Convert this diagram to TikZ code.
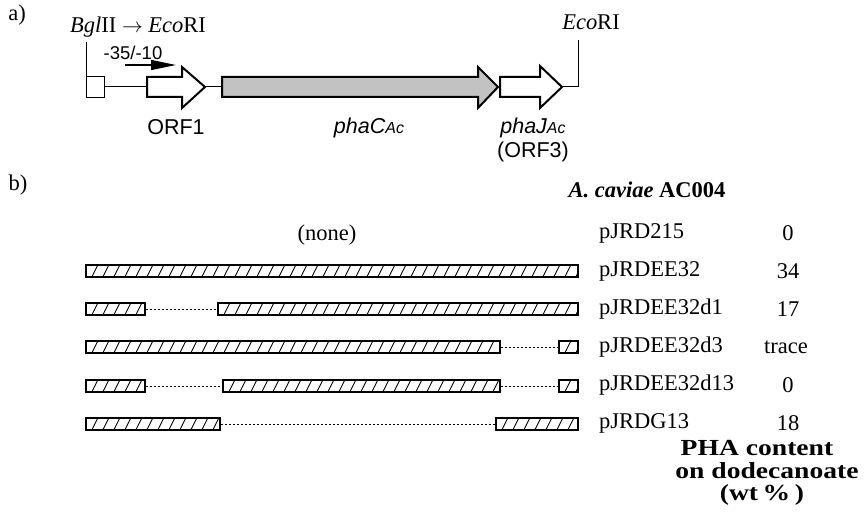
\documentclass[tikz,border=0pt]{standalone}
\usepackage{fontspec}
\usepackage{graphicx}
\setmainfont{Liberation Serif}
\setsansfont{Liberation Sans}
\usetikzlibrary{arrows.meta}
\tikzset{
  lbl/.style={font=\fontsize{22.5}{26}\selectfont, inner sep=0},
  plbl/.style={lbl, anchor=west},
  val/.style={lbl},
  slbl/.style={font=\sffamily\fontsize{21.5}{24}\selectfont, inner sep=0},
  bigb/.style={font=\bfseries\fontsize{23}{24}\selectfont, inner sep=0},
  gene/.style={draw, line width=2pt, line join=miter},
  thinln/.style={line width=1pt},
  hbar/.style={draw, line width=1.7pt, minimum height=12pt, inner sep=0, anchor=west,
    path picture={\foreach \k in {0,...,46}{\draw[line width=0.9pt]
      ([xshift=\k*11pt-5pt]path picture bounding box.south west) -- ++(7pt,14pt);}}},
  dline/.style={line width=1pt, dash pattern=on 2.5pt off 1.5pt},
}
\newcommand\acsub{\fontsize{16}{16}\selectfont Ac}
\begin{document}
\begin{tikzpicture}[x=1pt,y=-1pt]
\useasboundingbox (0,0) rectangle (864,516);

% ---------- part a ----------
\node[lbl] (la) at (17,15) {a)};
\node[lbl] (bgl) at (138,27) {\textit{Bgl}II $\rightarrow$ \textit{Eco}RI};
\node[lbl] (eco) at (591,22) {\textit{Eco}RI};

\coordinate (bglTop) at (86,42);
\node[draw, line width=1pt, minimum width=18pt, minimum height=21pt, inner sep=0, anchor=north west] (sbox) at (86,76) {};
\draw[thinln] (bglTop) -- (sbox.north west);

% ORF1
\draw[gene, fill=white] (147,77) -- (182,77) -- (182,67) -- (205,87) -- (182,108) -- (182,97) -- (147,97) -- cycle;
\coordinate (orf1L) at (147,87);
\coordinate (orf1R) at (205,87);
% phaC
\draw[gene, fill=black!24] (222,77) -- (478,77) -- (478,67) -- (498,87) -- (478,108) -- (478,97) -- (222,97) -- cycle;
\coordinate (phacL) at (222,87);
% phaJ
\draw[gene, fill=white] (500,77) -- (540,77) -- (540,66) -- (562,87) -- (540,108) -- (540,97) -- (500,97) -- cycle;
\coordinate (phajR) at (562,87);
\coordinate (ecoC) at (578,87);
\coordinate (ecoTop) at (578,40);

\draw[thinln] (sbox.east) -- (orf1L);
\draw[thinln] (orf1R) -- (phacL);
\draw[thinln] (phajR) -- (ecoC) -- (ecoTop);

% promoter
\node[font=\sffamily\fontsize{18.5}{20}\selectfont, inner sep=0] (prom) at (133,53) {-35/-10};
\coordinate (prL) at (125,65);
\coordinate (prR) at (176,65);
\draw[line width=1.2pt, -{Triangle[length=25pt,width=10pt]}] (prL) -- (prR);

\node[slbl] (orf1) at (176,127) {ORF1};
\node[slbl] (phac) at (369,128) {\itshape phaC\acsub};
\node[slbl] (phaj) at (533,128) {\itshape phaJ\acsub};
\node[slbl] (orf3) at (533,152) {(ORF3)};

% ---------- part b ----------
\node[lbl] (lb) at (18,185) {b)};
\node[lbl, font=\bfseries\fontsize{22.5}{26}\selectfont] (acav) at (647,190) {\textit{A. caviae} AC004};
\node[lbl] (none) at (327,235) {(none)};

\node[plbl] (p1) at (599,233) {pJRD215};
\node[plbl] (p2) at (599,271) {pJRDEE32};
\node[plbl] (p3) at (599,309) {pJRDEE32d1};
\node[plbl] (p4) at (599,347) {pJRDEE32d3};
\node[plbl] (p5) at (599,385) {pJRDEE32d13};
\node[plbl] (p6) at (599,423) {pJRDG13};

\node[val] (v1) at (788,233) {0};
\node[val] (v2) at (788,271) {34};
\node[val] (v3) at (788,309) {17};
\node[val] (v4) at (786,347) {trace};
\node[val] (v5) at (788,385) {0};
\node[val] (v6) at (788,423) {18};

% bars
\node[hbar, minimum width=492pt] (b2) at (85,271) {};

\node[hbar, minimum width=59pt] (b3a) at (85,309) {};
\node[hbar, minimum width=360pt] (b3b) at (217,309) {};
\draw[dline] (b3a.east) -- (b3b.west);

\node[hbar, minimum width=414pt] (b4a) at (85,347) {};
\node[hbar, minimum width=19pt] (b4b) at (558,347) {};
\draw[dline] (b4a.east) -- (b4b.west);

\node[hbar, minimum width=59pt] (b5a) at (85,386) {};
\node[hbar, minimum width=277pt] (b5b) at (222,386) {};
\node[hbar, minimum width=19pt] (b5c) at (558,386) {};
\draw[dline] (b5a.east) -- (b5b.west);
\draw[dline] (b5b.east) -- (b5c.west);

\node[hbar, minimum width=134pt] (b6a) at (85,424) {};
\node[hbar, minimum width=82pt] (b6b) at (495,424) {};
\draw[dline] (b6a.east) -- (b6b.west);

% PHA content legend
\node[bigb] (ph1) at (757,448) {\scalebox{1.2}[1]{PHA content}};
\node[bigb] (ph2) at (767,471) {\scalebox{1.2}[1]{on dodecanoate}};
\node[bigb] (ph3) at (762,495) {\scalebox{1.2}[1]{(wt\,\%\,)}};
\end{tikzpicture}
\end{document}
